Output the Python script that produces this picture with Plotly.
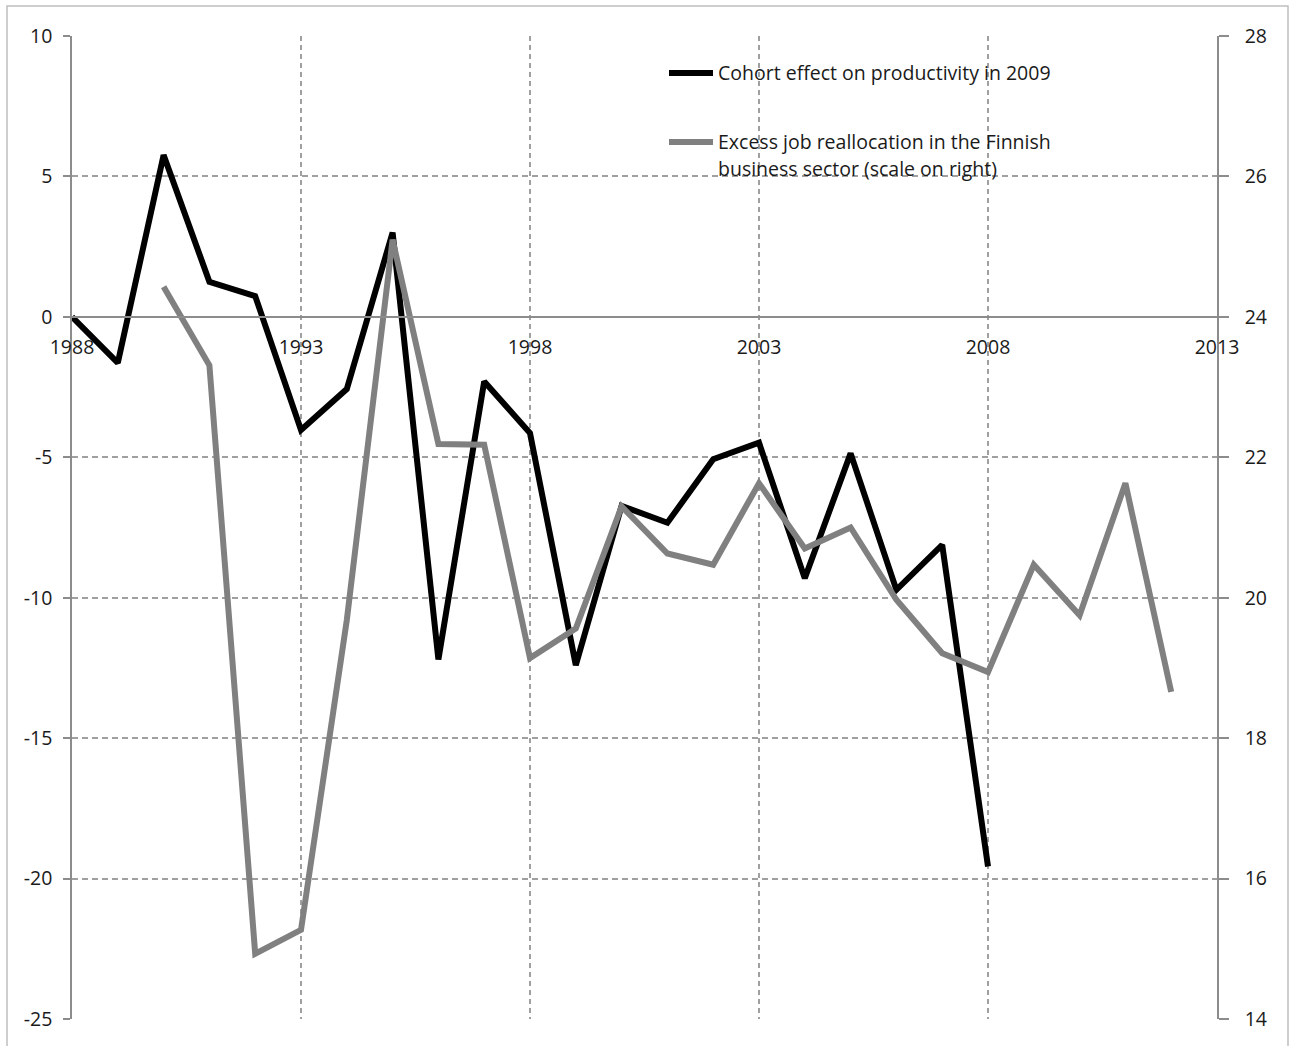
import plotly.graph_objects as go

# Cohort effect on productivity in 2009 (left scale), by entry-cohort year
cohort_years = list(range(1988, 2009))
cohort_effect = [0.0, -1.64, 5.76, 1.25, 0.74, -4.03, -2.57, 3.0, -12.2, -2.3,
                 -4.14, -12.4, -6.73, -7.33, -5.07, -4.48, -9.31, -4.86, -9.72,
                 -8.12, -19.57]

# Excess job reallocation in the Finnish business sector (right scale)
realloc_years = list(range(1990, 2013))
excess_realloc = [24.43, 23.31, 14.93, 15.27, 19.68, 25.1, 22.19, 22.18, 19.14,
                  19.56, 21.3, 20.63, 20.47, 21.63, 20.7, 21.0, 19.97, 19.21,
                  18.94, 20.47, 19.75, 21.63, 18.66]

left_ticks = [-25, -20, -15, -10, -5, 0, 5, 10]
right_ticks = [14, 16, 18, 20, 22, 24, 26, 28]
year_ticks = [1988, 1993, 1998, 2003, 2008, 2013]

label_cohort = "Cohort effect on productivity in 2009"
label_realloc_1 = "Excess job reallocation in the Finnish"
label_realloc_2 = "business sector (scale on right)"

W, H = 1291, 1046
L, R, T, B = 72, 1217, 36, 1019  # plot area in pixels


def px_x(x):
    return (x - L) / (R - L)


def px_y(y):
    return (B - y) / (B - T)


FONT = "Open Sans"
TXT = "#1a1a1a"
AXIS = "#8c8c8c"
GRID = "#a0a0a0"
BLACK = "#000000"
GREY = "#808080"
TICK_SIZE = 19.5
LEGEND_SIZE = 19.5

fig = go.Figure()

fig.add_trace(go.Scatter(
    x=cohort_years, y=cohort_effect, mode="lines",
    line=dict(color=BLACK, width=6), yaxis="y",
    name=label_cohort, showlegend=False,
))
fig.add_trace(go.Scatter(
    x=realloc_years, y=excess_realloc, mode="lines",
    line=dict(color=GREY, width=6), yaxis="y2",
    name=label_realloc_1 + " " + label_realloc_2, showlegend=False,
))

# zero of the left scale, where the year axis crosses
zero_pos = (0 - left_ticks[0]) / (left_ticks[-1] - left_ticks[0])

fig.update_layout(
    width=W, height=H,
    margin=dict(l=L, r=W - R, t=T, b=H - B, pad=0),
    paper_bgcolor="white", plot_bgcolor="white",
    font=dict(family=FONT, size=TICK_SIZE, color=TXT),
    showlegend=False,
    xaxis=dict(
        range=[year_ticks[0], year_ticks[-1]],
        tickvals=year_ticks, ticktext=[str(v) for v in year_ticks],
        anchor="free", position=zero_pos,
        showline=True, linecolor=AXIS, linewidth=1.5,
        ticks="outside", ticklen=13, tickcolor="rgba(0,0,0,0)",
        showgrid=True, gridcolor=GRID, gridwidth=1.5, griddash="5px,4px",
        zeroline=False,
        tickfont=dict(family=FONT, size=TICK_SIZE, color=TXT),
    ),
    yaxis=dict(
        range=[left_ticks[0], left_ticks[-1]],
        tickvals=left_ticks, ticktext=[str(v) for v in left_ticks],
        showline=True, linecolor=AXIS, linewidth=1.5,
        ticks="outside", ticklen=7, tickcolor=AXIS, tickwidth=1.5,
        ticklabelstandoff=7,
        showgrid=True, gridcolor=GRID, gridwidth=1.5, griddash="6px,4px",
        zeroline=False,
        tickfont=dict(family=FONT, size=TICK_SIZE, color=TXT),
    ),
    yaxis2=dict(
        range=[right_ticks[0], right_ticks[-1]],
        tickvals=right_ticks, ticktext=[str(v) for v in right_ticks],
        overlaying="y", side="right",
        showline=True, linecolor=AXIS, linewidth=1.5,
        ticks="outside", ticklen=10, tickcolor=AXIS, tickwidth=1.5,
        ticklabelstandoff=12,
        showgrid=False, zeroline=False,
        tickfont=dict(family=FONT, size=TICK_SIZE, color=TXT),
    ),
)

shapes = []
# chart frame
shapes.append(dict(
    type="rect", xref="paper", yref="paper", layer="below",
    x0=px_x(7), x1=px_x(1288), y0=px_y(1070), y1=px_y(6),
    line=dict(color="#bfbfbf", width=1.5), fillcolor="rgba(0,0,0,0)",
))
# legend keys
for y_key, colour in [(73, BLACK), (142, GREY)]:
    shapes.append(dict(
        type="line", xref="paper", yref="paper",
        x0=px_x(669), x1=px_x(713), y0=px_y(y_key), y1=px_y(y_key),
        line=dict(color=colour, width=6),
    ))
fig.update_layout(shapes=shapes)

legend_text = [(label_cohort, 73), (label_realloc_1, 141), (label_realloc_2, 168)]
for text, y_txt in legend_text:
    fig.add_annotation(
        xref="paper", yref="paper", x=px_x(716), y=px_y(y_txt),
        xanchor="left", yanchor="middle", showarrow=False,
        text=text, font=dict(family=FONT, size=LEGEND_SIZE, color=TXT),
    )

fig.write_html("out.html")
